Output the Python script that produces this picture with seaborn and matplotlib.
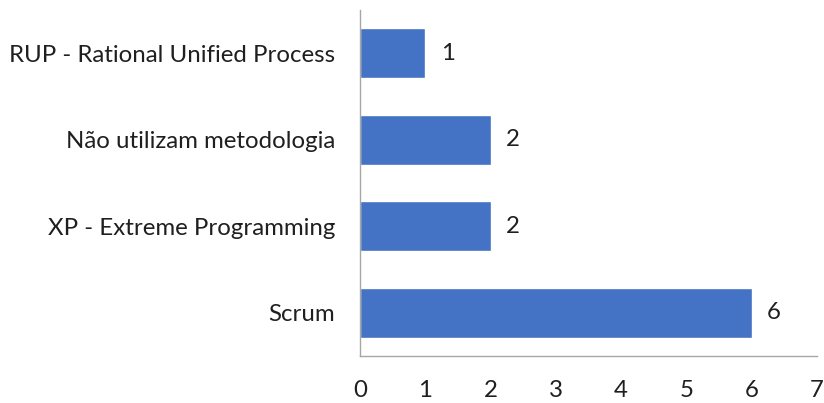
import matplotlib.pyplot as plt
import seaborn as sns
import pandas as pd

metodologias = ["RUP - Rational Unified Process", "Não utilizam metodologia",
                "XP - Extreme Programming", "Scrum"]
quantidades = [1, 2, 2, 6]
x_ticks = [0, 1, 2, 3, 4, 5, 6, 7]

df = pd.DataFrame({"metodologia": metodologias, "quantidade": quantidades})

sns.set_style("white")
plt.rcParams['font.family'] = ['Lato', 'DejaVu Sans']

fig = plt.figure(figsize=(8.24, 4.03), dpi=100)
ax = fig.add_axes([360 / 824, 47 / 403, 457 / 824, 346 / 403])

sns.barplot(data=df, x="quantidade", y="metodologia", orient="h",
            color="#4472C4", saturation=1, width=0.58, ax=ax)

for cont in ax.containers:
    ax.bar_label(cont, padding=11, fontsize=17.3, color="#1f1f1f")

ax.set_xlim(0, 7)
ax.set_ylim(3.5, -0.5)
ax.set_xticks(x_ticks)
ax.set_xlabel("")
ax.set_ylabel("")
ax.tick_params(axis="both", length=0, labelsize=17.3, colors="#1f1f1f")
ax.tick_params(axis="y", pad=18)
ax.tick_params(axis="x", pad=17)

for side in ["top", "right"]:
    ax.spines[side].set_visible(False)
for side in ["left", "bottom"]:
    ax.spines[side].set_color("#a6a6a6")
    ax.spines[side].set_linewidth(1)

fig.savefig("out.png", dpi=100)
